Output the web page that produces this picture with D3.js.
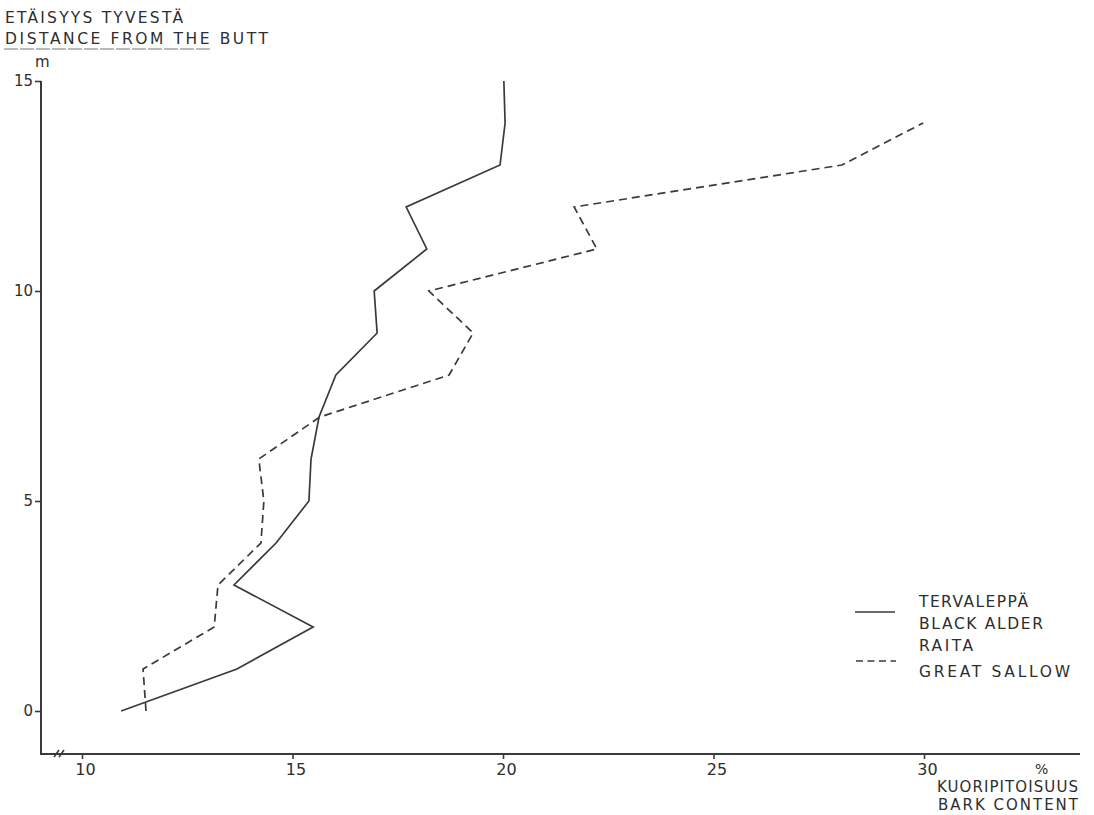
<!DOCTYPE html>
<html>
<head>
<meta charset="utf-8">
<script src="https://cdn.jsdelivr.net/npm/d3@7"></script>
<style>
  html, body { margin: 0; padding: 0; background: #fff; }
  svg { display: block; }
  text { font-family: "DejaVu Sans", "Liberation Sans", sans-serif; fill: #2e2e2e; }
</style>
</head>
<body>
<svg id="chart" width="1094" height="815"></svg>
<script>
// Distance from the butt (m) and bark content (%) per species
const heights = [0, 1, 2, 3, 4, 5, 6, 7, 8, 9, 10, 11, 12, 13, 14, 15];
const blackAlder = [10.93, 13.68, 15.49, 13.61, 14.61, 15.39, 15.44, 15.63, 16.03, 17.01, 16.94, 18.19, 17.70, 19.93, 20.05, 20.02];
const greatSallow = [11.52, 11.45, 13.14, 13.23, 14.25, 14.32, 14.20, 15.65, 18.72, 19.29, 18.24, 22.23, 21.69, 28.05, 29.98];
const xTicks = [10, 15, 20, 25, 30];
const yTicks = [0, 5, 10, 15];

const svg = d3.select("#chart");
const ink = "#3a3a3a";

// Scales: x = bark content %, y = height along the stem
const x = d3.scaleLinear().domain([10, 30]).range([82, 924]);
const y = d3.scaleLinear().domain([0, 15]).range([711, 81]);
const axisLeftX = 41, axisBottomY = 754, axisRightX = 1080;

// Axis lines
svg.append("line")
  .attr("x1", axisLeftX).attr("x2", axisLeftX)
  .attr("y1", y(15)).attr("y2", axisBottomY)
  .attr("stroke", ink).attr("stroke-width", 2);
svg.append("line")
  .attr("x1", axisLeftX - 1).attr("x2", axisRightX)
  .attr("y1", axisBottomY).attr("y2", axisBottomY)
  .attr("stroke", ink).attr("stroke-width", 2);

// Axis break marks on the x axis
[0, 5].forEach(d => {
  svg.append("line")
    .attr("x1", 54 + d).attr("y1", axisBottomY + 3)
    .attr("x2", 59 + d).attr("y2", axisBottomY - 4)
    .attr("stroke", ink).attr("stroke-width", 1.6);
});

// Y axis ticks and labels
const yAxis = svg.append("g")
  .attr("transform", `translate(${axisLeftX},0)`)
  .call(d3.axisLeft(y).tickValues(yTicks).tickSize(6).tickPadding(2).tickFormat(d3.format("d")));
yAxis.select(".domain").remove();
yAxis.selectAll(".tick line").attr("stroke", ink).attr("stroke-width", 1.6);
yAxis.selectAll(".tick text")
  .style("font-family", "DejaVu Sans, sans-serif")
  .style("font-size", "15px").attr("fill", "#2e2e2e");

// X axis ticks and labels
const xAxis = svg.append("g")
  .attr("transform", `translate(0,${axisBottomY})`)
  .call(d3.axisBottom(x).tickValues(xTicks).tickSize(5).tickPadding(5).tickFormat(d3.format("d")));
xAxis.select(".domain").remove();
xAxis.selectAll(".tick line").attr("stroke", ink).attr("stroke-width", 1.6);
xAxis.selectAll(".tick text")
  .attr("dx", 3)
  .style("font-family", "DejaVu Sans, sans-serif")
  .style("font-size", "16px").attr("fill", "#2e2e2e");

// Series lines
const line = d3.line().x(d => x(d[0])).y(d => y(d[1]));
svg.append("path")
  .datum(blackAlder.map((v, i) => [v, heights[i]]))
  .attr("d", line)
  .attr("fill", "none").attr("stroke", ink).attr("stroke-width", 1.7)
  .attr("stroke-linejoin", "miter");
svg.append("path")
  .datum(greatSallow.map((v, i) => [v, heights[i]]))
  .attr("d", line)
  .attr("fill", "none").attr("stroke", ink).attr("stroke-width", 1.7)
  .attr("stroke-dasharray", "8,5");

// Text helper with fixed widths
function label(txt, xPos, yPos, size, width, anchor) {
  const t = svg.append("text")
    .attr("x", xPos).attr("y", yPos)
    .attr("font-size", size)
    .attr("text-anchor", anchor || "start")
    .text(txt);
  if (width) t.attr("textLength", width).attr("lengthAdjust", "spacing");
  return t;
}

// Y axis title
label("ETÄISYYS  TYVESTÄ", 5, 23, 15.5, 178);
label("DISTANCE  FROM  THE  BUTT", 5, 44, 15.5, 263);
svg.append("line")
  .attr("x1", 4).attr("x2", 210).attr("y1", 49).attr("y2", 49)
  .attr("stroke", "#777").attr("stroke-width", 1).attr("stroke-dasharray", "14,2");
label("m", 35, 67, 15);

// X axis title
label("%", 1035, 774, 14);
label("KUORIPITOISUUS", 937, 792, 15, 141);
label("BARK  CONTENT", 938, 810, 15, 140);

// Legend
svg.append("line")
  .attr("x1", 855).attr("x2", 895).attr("y1", 612).attr("y2", 612)
  .attr("stroke", ink).attr("stroke-width", 1.7);
svg.append("line")
  .attr("x1", 856).attr("x2", 896).attr("y1", 661).attr("y2", 661)
  .attr("stroke", ink).attr("stroke-width", 1.7).attr("stroke-dasharray", "7,4.5");
label("TERVALEPPÄ", 919, 607, 15.5, 109);
label("BLACK  ALDER", 919, 629, 15.5, 124);
label("RAITA", 919, 651, 15.5, 54);
label("GREAT  SALLOW", 919, 677, 15.5, 151);
</script>
</body>
</html>
